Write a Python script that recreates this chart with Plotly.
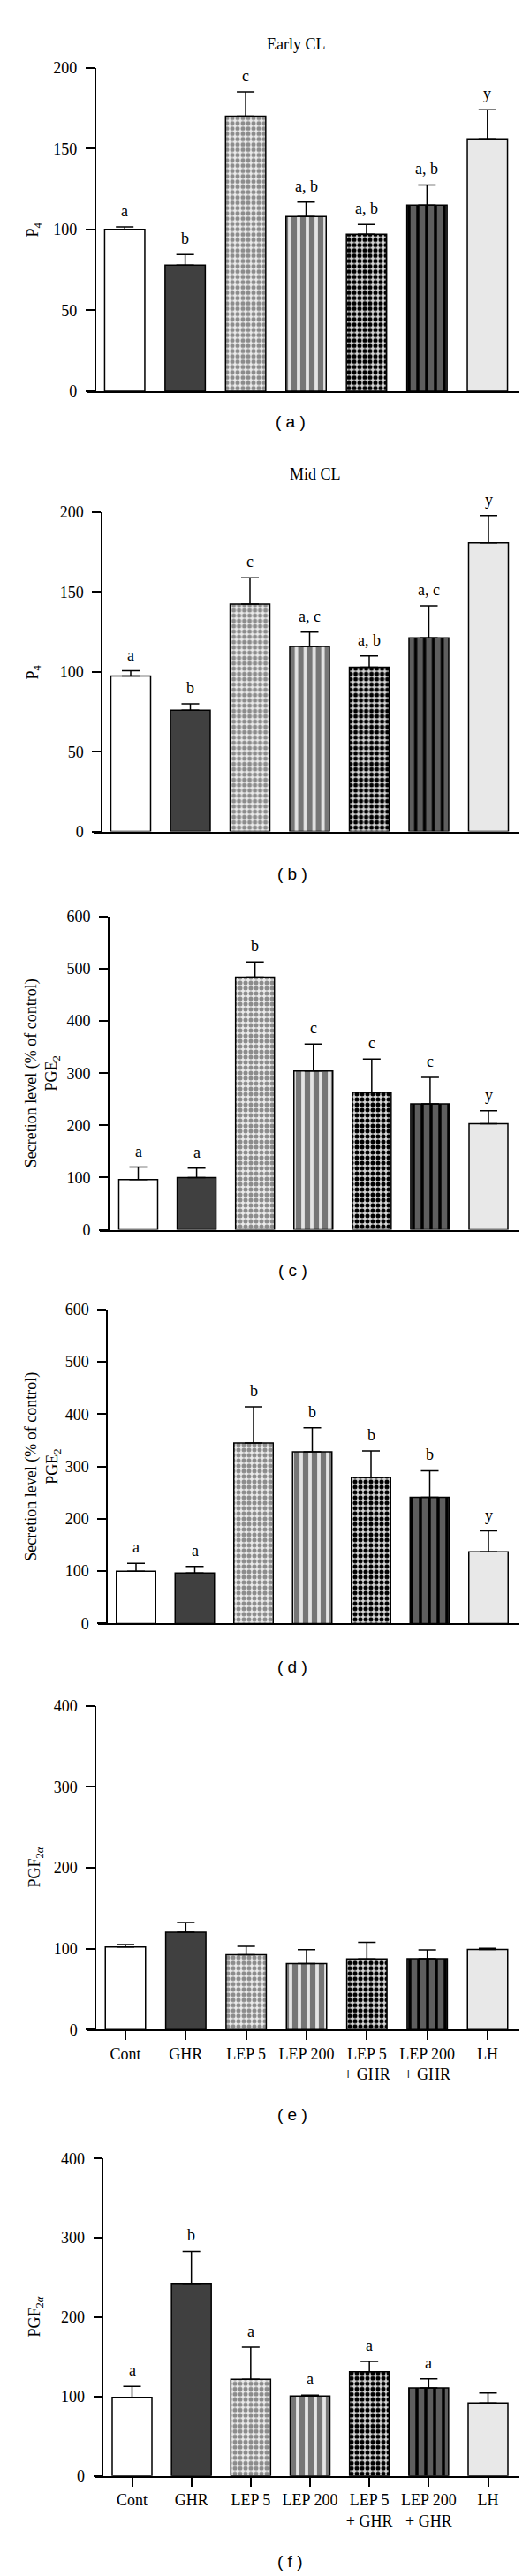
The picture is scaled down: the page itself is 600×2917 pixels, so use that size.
import plotly.graph_objects as go

# ---------------- data ----------------
groups = ["Cont", "GHR", "LEP 5", "LEP 200", "LEP 5<br>+ GHR", "LEP 200<br>+ GHR", "LH"]

a_mean = [100, 78, 170, 108, 97, 115, 156]
a_sem = [1.5, 6.5, 15, 9, 6, 12.5, 18]
a_let = ["a", "b", "c", "a, b", "a, b", "a, b", "y"]

b_mean = [97.4, 76, 142.5, 116, 103, 121.4, 180.8]
b_sem = [3.3, 4, 16.5, 9, 7, 20, 17.2]
b_let = ["a", "b", "c", "a, c", "a, b", "a, c", "y"]

c_mean = [96, 100, 484, 304, 263, 241, 203]
c_sem = [24, 18, 29, 52, 64, 51, 25]
c_let = ["a", "a", "b", "c", "c", "c", "y"]

d_mean = [100, 96.5, 345, 328, 279, 241, 137]
d_sem = [15, 12.5, 69, 46, 51, 51, 40]
d_let = ["a", "a", "b", "b", "b", "b", "y"]

e_mean = [102, 120.4, 92.6, 81.7, 87.2, 87.5, 99.1]
e_sem = [3, 12, 10.4, 17, 20.6, 11, 1.4]
e_let = ["", "", "", "", "", "", ""]

f_mean = [99, 242.5, 121.8, 100.8, 131.4, 111.1, 91.8]
f_sem = [14, 40.5, 40.5, 1.1, 13, 11.4, 12.7]
f_let = ["a", "b", "a", "a", "a", "a", ""]

# ---------------- styles ----------------
W, H = 600, 2917
SERIF = "Liberation Serif"
SANS = "Liberation Sans"

bar_color = ["#ffffff", "#404040", "#ececec", "#e4e4e4", "#d6d6d6", "#5e5e5e", "#e8e8e8"]
pat_shape = ["", "", ".", "|", ".", "|", ""]
pat_fg = ["#ffffff", "#404040", "#8c8c8c", "#767676", "#000000", "#000000", "#e8e8e8"]
pat_size = [6, 6, 6, 10, 6, 10, 6]
pat_sol = [0.3, 0.3, 0.55, 0.62, 0.55, 0.35, 0.3]

# panel geometry (pixels)
panels = [
    dict(mean=a_mean, sem=a_sem, let=a_let, L=90, YX=99.5, R=580, c1=133.2, c7=543.8, bw=45.5,
         top=59, bot=428, ymax=200, dt=50, ylab="P<sub>4</sub>", ylx=30.6,
         title="Early CL", tx=327, ty=32, plab="( a )", px=321, py=463, xt=False),
    dict(mean=b_mean, sem=b_sem, let=b_let, L=97.6, YX=107, R=580, c1=140, c7=545, bw=45,
         top=566, bot=930, ymax=200, dt=50, ylab="P<sub>4</sub>", ylx=30.6,
         title="Mid CL", tx=349, ty=523, plab="( b )", px=323, py=978, xt=False),
    dict(mean=c_mean, sem=c_sem, let=c_let, L=105, YX=114.8, R=580, c1=148.5, c7=545, bw=44,
         top=1027, bot=1384, ymax=600, dt=100,
         ylab="Secretion level (% of control)<br>PGE<sub>2</sub>", ylx=40,
         title=None, plab="( c )", px=323, py=1430, xt=False),
    dict(mean=d_mean, sem=d_sem, let=d_let, L=103, YX=113, R=580, c1=146, c7=545, bw=44.5,
         top=1475, bot=1833, ymax=600, dt=100,
         ylab="Secretion level (% of control)<br>PGE<sub>2</sub>", ylx=40,
         title=None, plab="( d )", px=323, py=1882, xt=False),
    dict(mean=e_mean, sem=e_sem, let=e_let, L=91, YX=100, R=580, c1=134, c7=544, bw=45.5,
         top=1927, bot=2296, ymax=400, dt=100, ylab="PGF<sub>2<i>α</i></sub>", ylx=32.5,
         title=None, plab="( e )", px=323, py=2393, xt=True),
    dict(mean=f_mean, sem=f_sem, let=f_let, L=99, YX=108.3, R=580, c1=141.5, c7=544.5, bw=45,
         top=2443, bot=2805, ymax=400, dt=100, ylab="PGF<sub>2<i>α</i></sub>", ylx=32.5,
         title=None, plab="( f )", px=320, py=2902, xt=True),
]

fig = go.Figure()
annotations = []
xs = list(range(len(groups)))

for i, p in enumerate(panels):
    n = i + 1
    xname = "x" if n == 1 else f"x{n}"
    yname = "y" if n == 1 else f"y{n}"
    s = (p["c7"] - p["c1"]) / 6.0
    for k in xs:
        pattern = dict(shape=pat_shape[k], fillmode="overlay")
        if pat_shape[k]:
            pattern.update(fgcolor=pat_fg[k], fgopacity=1, size=pat_size[k],
                           solidity=pat_sol[k])
        fig.add_trace(go.Bar(
            x=[k], y=[p["mean"][k]], xaxis=xname, yaxis=yname,
            width=p["bw"] / s,
            marker=dict(color=bar_color[k], line=dict(color="#000000", width=1.5),
                        pattern=pattern),
            error_y=dict(type="data", symmetric=False, array=[p["sem"][k]],
                         arrayminus=[0], color="#000000", thickness=1.5, width=10),
            hoverinfo="skip",
        ))
    xr = [(p["L"] - p["c1"]) / s, (p["R"] - p["c1"]) / s]
    xax = dict(domain=[p["L"] / W, p["R"] / W], range=xr, anchor=yname,
               showline=True, linecolor="#000000", linewidth=1.5, showgrid=False,
               zeroline=False, fixedrange=True)
    if p["xt"]:
        xax.update(tickmode="array", tickvals=xs, ticktext=groups, ticks="outside",
                   ticklen=10, tickwidth=1.5, tickcolor="#000000",
                   tickfont=dict(family=SERIF, size=18, color="#000000"))
    else:
        xax.update(showticklabels=False, ticks="")
    yax = dict(domain=[1 - p["bot"] / H, 1 - p["top"] / H], range=[0, p["ymax"]],
               anchor="free", position=p["YX"] / W, dtick=p["dt"], tick0=0,
               showline=True, linecolor="#000000", linewidth=1.5, showgrid=False,
               zeroline=False, ticks="outside", ticklen=10, tickwidth=1.5,
               tickcolor="#000000", ticklabelstandoff=6,
               tickfont=dict(family=SERIF, size=18, color="#000000"), fixedrange=True)
    fig.update_layout(**{("xaxis" if n == 1 else f"xaxis{n}"): xax,
                         ("yaxis" if n == 1 else f"yaxis{n}"): yax})

    for k, lt in enumerate(p["let"]):
        if lt:
            annotations.append(dict(x=k, y=p["mean"][k] + p["sem"][k], xref=xname, yref=yname,
                                    text=lt, showarrow=False, yanchor="middle", yshift=18,
                                    font=dict(family=SERIF, size=18, color="#000000")))
    annotations.append(dict(x=p["ylx"] / W, y=1 - (p["top"] + p["bot"]) / 2 / H,
                            xref="paper", yref="paper", text=p["ylab"], textangle=-90,
                            showarrow=False, xanchor="center", yanchor="middle",
                            font=dict(family=SERIF, size=18, color="#000000")))
    if p["title"]:
        annotations.append(dict(x=p["tx"] / W, y=1 - p["ty"] / H, xref="paper", yref="paper",
                                text=p["title"], showarrow=False, xanchor="center",
                                yanchor="middle",
                                font=dict(family=SERIF, size=18, color="#000000")))
    annotations.append(dict(x=p["px"] / W, y=1 - p["py"] / H, xref="paper", yref="paper",
                            text=p["plab"], showarrow=False, xanchor="center", yanchor="middle",
                            font=dict(family=SANS, size=19, color="#000000")))

fig.update_layout(width=W, height=H, margin=dict(l=0, r=0, t=0, b=0),
                  paper_bgcolor="#ffffff", plot_bgcolor="#ffffff", showlegend=False,
                  annotations=annotations, barmode="overlay")

fig.write_html("out.html")
